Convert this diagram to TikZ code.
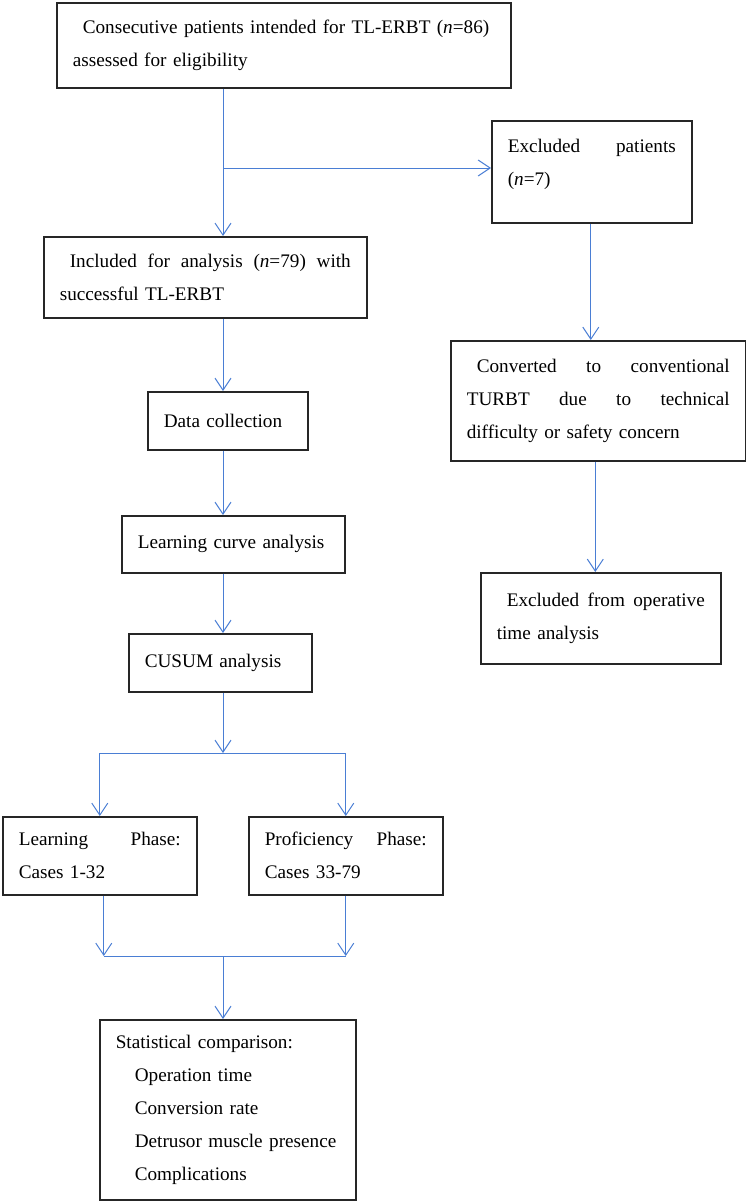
\documentclass[tikz,border=0pt]{standalone}
\usepackage{fontspec}
\setmainfont{Liberation Serif}
\usetikzlibrary{arrows.meta, positioning}
\definecolor{flowblue}{RGB}{74,126,212}
\tikzset{
  box/.style={rectangle, draw=black!85, line width=1.6pt, anchor=north west, inner xsep=16pt, inner ysep=2pt, align=left, font=\fontsize{19.2}{33}\selectfont},
  flowline/.style={draw=flowblue, line width=1pt},
  arrow/.style={flowline, -{Straight Barb[length=12pt, width=16pt]}}
}

\begin{document}
\begin{tikzpicture}[x=1pt, y=-1pt]
  \useasboundingbox (0,0) rectangle (746,1202);
  % left column
  \node[box, text width=422pt, minimum height=85pt] (cons) at (56,2) {\hspace*{10pt}Consecutive patients intended for TL-ERBT (\textit{n}=86)\\assessed for eligibility};
  \node[box, text width=291pt, minimum height=81pt] (incl) at (43,236) {\hspace*{10pt}Included \hfill for \hfill analysis \hfill (\textit{n}=79) \hfill with\\successful TL-ERBT};
  \node[box, text width=128pt, minimum height=58pt] (data) at (147,391) {Data collection};
  \node[box, text width=191pt, minimum height=57pt] (lca) at (121,515) {Learning curve analysis};
  \node[box, text width=151pt, minimum height=58pt] (cusum) at (128,633) {CUSUM analysis};
  \node[box, text width=162pt, minimum height=78pt] (learn) at (2,816) {Learning \hfill Phase:\\Cases 1-32};
  \node[box, text width=162pt, minimum height=78pt] (prof) at (248,816) {Proficiency \hfill Phase:\\Cases 33-79};
  \node[box, text width=224pt, minimum height=180pt] (stat) at (99,1019) {Statistical comparison:\\
    \hspace*{19pt}Operation time\\
    \hspace*{19pt}Conversion rate\\
    \hspace*{19pt}Detrusor muscle presence\\
    \hspace*{19pt}Complications};
  % right column
  \node[box, text width=168pt, minimum height=102pt] (excl) at (491,120) {Excluded \hfill patients\\(\textit{n}=7)\\[-14pt]\mbox{}};
  \node[box, text width=263pt, minimum height=120pt] (conv) at (450,340) {\hspace*{10pt}Converted \hfill to \hfill conventional\\TURBT \hfill due \hfill to \hfill technical\\difficulty or safety concern};
  \node[box, text width=208pt, minimum height=91pt] (opex) at (480,572) {\hspace*{10pt}Excluded \hfill from \hfill operative\\time analysis};

  \coordinate (spine) at (223,0);
  \coordinate (branch) at (223,168);
  \coordinate (split) at (223,753);
  \coordinate (merge) at (223,956);

  \draw[arrow] (cons.south -| spine) -- (incl.north -| spine);
  \draw[arrow] (branch) -- (excl.west |- branch);
  \draw[arrow] ([xshift=-1pt]excl.south) -- ([xshift=-1pt]excl.south |- conv.north);
  \draw[arrow] ([xshift=-3pt]conv.south) -- ([xshift=-3pt]conv.south |- opex.north);
  \draw[arrow] (incl.south -| spine) -- (data.north -| spine);
  \draw[arrow] (data.south -| spine) -- (lca.north -| spine);
  \draw[arrow] (lca.south -| spine) -- (cusum.north -| spine);
  \draw[arrow] (cusum.south -| spine) -- (split);
  \draw[arrow] (split) -| (learn.north);
  \draw[arrow] (split) -| (prof.north);
  \draw[arrow] ([xshift=4pt]learn.south) -- ([xshift=4pt]learn.south |- merge);
  \draw[arrow] (prof.south) -- (prof.south |- merge);
  \draw[flowline] ([xshift=4pt]learn.south |- merge) -- (prof.south |- merge);
  \draw[arrow] (merge) -- (stat.north -| merge);
\end{tikzpicture}
\end{document}
